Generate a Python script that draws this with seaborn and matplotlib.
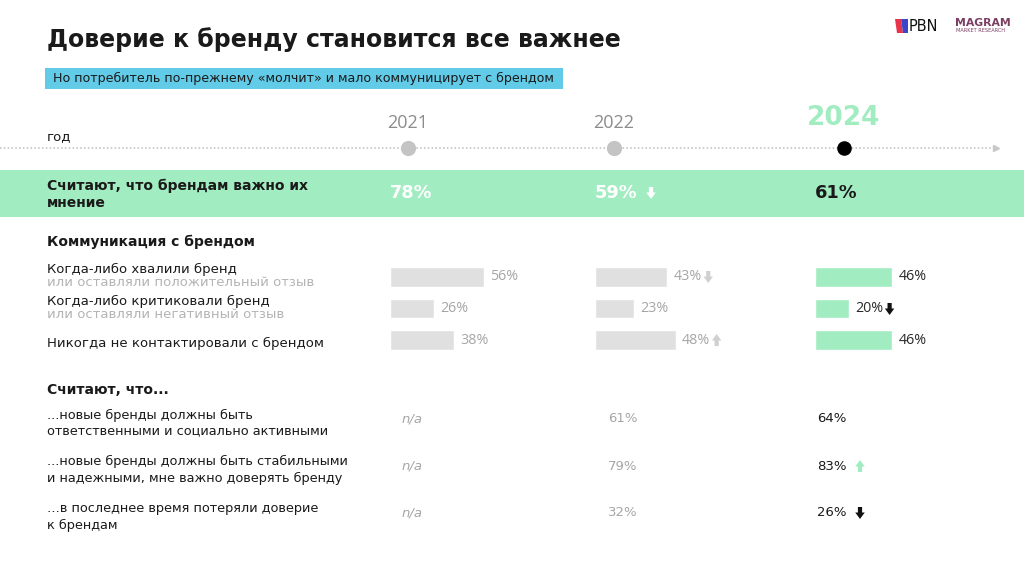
import matplotlib.pyplot as plt
import seaborn as sns
from matplotlib.patches import Rectangle, FancyArrow, Polygon

sns.set_theme(style='white')
plt.rcParams['font.family'] = ['DejaVu Sans']

# --- data ---
years = ['2021', '2022', '2024']
important = [78, 59, 61]
important_trend = [None, 'down', None]

comm_labels = ['Когда-либо хвалили бренд',
               'Когда-либо критиковали бренд',
               'Никогда не контактировали с брендом']
comm_notes = ['или оставляли положительный отзыв',
              'или оставляли негативный отзыв',
              '']
comm_2021 = [56, 26, 38]
comm_2022 = [43, 23, 48]
comm_2024 = [46, 20, 46]
comm_trend_2021 = [None, None, None]
comm_trend_2022 = ['down', None, 'up']
comm_trend_2024 = [None, 'down', None]

belief_labels = ['...новые бренды должны быть\nответственными и социально активными',
                 '...новые бренды должны быть стабильными\nи надежными, мне важно доверять бренду',
                 '…в последнее время потеряли доверие\nк брендам']
belief_2021 = [None, None, None]
belief_2022 = [61, 79, 32]
belief_2024 = [64, 83, 26]
belief_trend_2024 = [None, 'up', 'down']

# --- colours ---
MINT = '#a2ecc1'
BAR_GREY = '#e0e0e0'
TXT = '#1a1a1a'
GREY_TXT = '#a6a6a6'

W, H = 1024, 576
fig = plt.figure(figsize=(W / 100, H / 100), dpi=100)
ax = fig.add_axes([0, 0, 1, 1])
ax.set_xlim(0, W)
ax.set_ylim(H, 0)
ax.axis('off')

col_x = [390, 595, 815]      # left edge of each year column
col_mid = [408, 614, 844]    # timeline points
px_per_pct = 1.68


def block_arrow(x, y, direction, color):
    h = 12
    dy = h if direction == 'down' else -h
    ax.add_patch(FancyArrow(x, y - dy / 2, 0, dy, width=4.2, head_width=9.5,
                            head_length=6.5, length_includes_head=True,
                            color=color, lw=0, zorder=5))


# title + subtitle
ax.text(47, 40, 'Доверие к бренду становится все важнее', fontsize=17,
        fontweight='bold', color=TXT, va='center')
ax.add_patch(Rectangle((45, 68), 518, 21, color='#62cbe8', lw=0))
ax.text(53, 78.5, 'Но потребитель по-прежнему «молчит» и мало коммуницирует с брендом',
        fontsize=9.1, color=TXT, va='center')

# logos
ax.add_patch(Polygon([[895, 19], [901, 19], [903, 33], [897, 33]], color='#e8344a', lw=0))
ax.add_patch(Polygon([[901, 19], [908, 19], [908, 33], [903, 33]], color='#3b47c8', lw=0))
ax.text(909, 26.5, 'PBN', fontsize=10.5, color='#111111', va='center')
ax.text(955, 23.5, 'MAGRAM', fontsize=7.8, color='#7b3f63', va='center',
        fontweight='bold')
ax.text(956, 31, 'MARKET RESEARCH', fontsize=3.6, color='#7b3f63', va='center')

# timeline
ax.text(47, 137, 'год', fontsize=9.5, color=TXT, va='center')
ax.plot([0, 992], [148, 148], linestyle=(0, (1, 1.5)), color='#bdbdbd', lw=1.1)
ax.plot([996], [148], marker='>', markersize=5, color='#c8c8c8', lw=0)
for i, (yr, xm) in enumerate(zip(years, col_mid)):
    last = i == len(years) - 1
    ax.scatter([xm], [148], s=110 if last else 120,
               color='#000000' if last else '#c4c4c4', zorder=4, lw=0)
    if last:
        ax.text(xm, 118, yr, fontsize=19, fontweight='bold', color=MINT,
                ha='center', va='center')
    else:
        ax.text(xm, 123, yr, fontsize=13, color='#8c8c8c', ha='center',
                va='center', family='Open Sans')

# mint band
ax.add_patch(Rectangle((0, 170), W, 47, color=MINT, lw=0))
ax.text(47, 194, 'Считают, что брендам важно их\nмнение', fontsize=10,
        fontweight='bold', color=TXT, va='center', linespacing=1.25)
for i, (v, tr, cx) in enumerate(zip(important, important_trend, col_x)):
    last = i == len(important) - 1
    ax.text(cx, 193, f'{v}%', fontsize=12.8, fontweight='bold',
            color=TXT if last else 'white', va='center')
    if tr:
        block_arrow(cx + 56, 193, tr, 'white')

# communication section
ax.text(47, 242, 'Коммуникация с брендом', fontsize=10, fontweight='bold',
        color=TXT, va='center')
row_y = [277, 309, 340]
for lab, note, y in zip(comm_labels, comm_notes, row_y):
    if note:
        ax.text(47, y - 7.5, lab, fontsize=9.5, color=TXT, va='center')
        ax.text(47, y + 6, note, fontsize=9.5, color='#b4b4b4', va='center')
    else:
        ax.text(47, y + 3, lab, fontsize=9.5, color=TXT, va='center')

comm_cols = [comm_2021, comm_2022, comm_2024]
comm_trends = [comm_trend_2021, comm_trend_2022, comm_trend_2024]
for i, (cx, vals, trends) in enumerate(zip(col_x, comm_cols, comm_trends)):
    last = i == len(comm_cols) - 1
    bar_c = MINT if last else BAR_GREY
    lab_c = '#2a2a2a' if last else GREY_TXT
    arr_c = '#111111' if last else '#d0d0d0'
    bax = fig.add_axes([cx / W, 1 - 356 / H, 100 * px_per_pct / W, 95 / H])
    sns.barplot(x=vals, y=comm_labels, orient='h', color=bar_c, width=0.63,
                saturation=1, ax=bax)
    bax.set_xlim(0, 100)
    bax.set_ylim(2.5, -0.5)
    bax.axis('off')
    for j, v in enumerate(vals):
        bax.annotate(f'{v}%', xy=(v, j), xytext=(4.5, 0), textcoords='offset points',
                     fontsize=10.3, color=lab_c, va='center', family='Open Sans',
                     annotation_clip=False)
        if trends[j]:
            block_arrow(cx + v * px_per_pct + 41, row_y[j], trends[j], arr_c)

# beliefs section
ax.text(47, 390, 'Считают, что...', fontsize=10, fontweight='bold',
        color=TXT, va='center')
b_y = [419, 466, 513]
for lab, y in zip(belief_labels, b_y):
    ax.text(47, y + 4, lab, fontsize=9.3, color=TXT, va='center', linespacing=1.3)

val_x = [402, 608, 817]
for i, (vx, vals) in enumerate(zip(val_x, [belief_2021, belief_2022, belief_2024])):
    last = i == 2
    for j, v in enumerate(vals):
        if v is None:
            ax.text(vx, b_y[j], 'n/a', fontsize=9.5, style='italic',
                    color=GREY_TXT, va='center')
        else:
            ax.text(vx, b_y[j], f'{v}%', fontsize=9.5,
                    color=TXT if last else GREY_TXT, va='center')
for j, tr in enumerate(belief_trend_2024):
    if tr:
        block_arrow(860, b_y[j], tr, MINT if tr == 'up' else '#111111')

fig.savefig('out.png', dpi=100)
